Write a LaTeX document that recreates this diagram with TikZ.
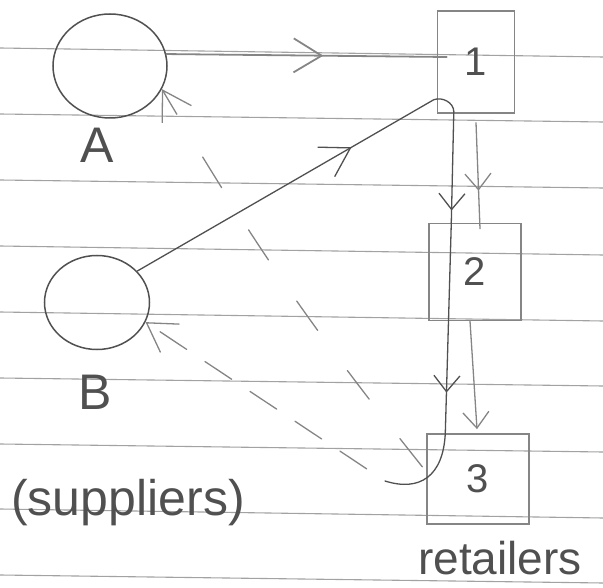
\documentclass[tikz,border=0pt]{standalone}
\usepackage{fontspec}
\setmainfont{Liberation Sans}
\usetikzlibrary{arrows.meta,positioning,shapes.geometric,decorations.markings}
\definecolor{pencil}{HTML}{505050}
\definecolor{lightpencil}{HTML}{858585}
\definecolor{ruling}{HTML}{A2A2A2}

\begin{document}
\begin{tikzpicture}[
    x=1pt, y=1pt,
    >={Straight Barb[length=16pt,width=26pt]},
    bigtip/.style={>={Straight Barb[length=28pt,width=34pt]}},
    supplier/.style={draw=pencil, ellipse, line width=1.5pt, inner sep=0pt},
    retailer/.style={draw=lightpencil, rectangle, line width=1.4pt, inner sep=0pt, font=\fontsize{40}{40}\selectfont, text=pencil},
    lab/.style={font=\fontsize{50}{50}\selectfont, text=pencil, inner sep=0pt},
    flow/.style={draw=pencil, line width=1.3pt, line cap=round},
    back/.style={draw=lightpencil, line width=1.3pt, line cap=round},
    midarrow/.style={postaction={decorate}, decoration={markings, mark=at position #1 with {\arrow{>}}}},
    rule/.style={draw=ruling, line width=1.1pt}
]
\useasboundingbox (0,0) rectangle (603,-588);

% lined paper
\foreach \yl/\yr in {48/57,114/122,180/188,246/255,312/321,378/386,444/452,509/518,575/583}
    \draw[rule] (0,-\yl) -- (603,-\yr);

% Nodes
\node[supplier, minimum width=114pt, minimum height=104pt] (A) at (110,-66) {};
\node[lab, below=9pt of A, xshift=-13pt] (labA) {A};
\node[supplier, minimum width=105pt, minimum height=94pt, below=136pt of A, xshift=-13pt] (B) {};
\node[lab, below=25pt of B, xshift=-2pt] (labB) {B};
\node[lab, anchor=base] (suppliers) at (128,-515) {(suppliers)};

\node[retailer, minimum width=77pt, minimum height=102pt] (box1) at (476,-62) {1};
\node[retailer, minimum width=92pt, minimum height=97pt, below=109pt of box1, xshift=-1pt] (box2) {2};
\node[retailer, minimum width=102pt, minimum height=90pt, below=112pt of box2, xshift=3pt] (box3) {3};
\node[lab, font=\fontsize{46}{46}\selectfont, anchor=base] (retailers) at (500,-574) {retailers};

\coordinate (turn1) at ([shift={(17,2)}]box1.south west);
\coordinate (retB) at (385,-481);

% Connections
\draw[flow, bigtip, line width=1.8pt, draw=lightpencil, midarrow=0.56] (A.12) -- ([shift={(10,5)}]box1.west);
\draw[flow, bigtip, midarrow=0.67] (B.38) -- ([shift={(-3,14)}]box1.south west) to[out=20, in=90] (turn1);
\draw[flow, midarrow=0.89] (turn1) -- ([xshift=23pt]box2.north west);
\draw[flow, midarrow=170pt] ([xshift=23pt]box2.north west) -- ([xshift=19pt]box3.north west)
    .. controls +(-2,-43) and +(35,-11) .. (retB);
\draw[back, midarrow=68pt] ([yshift=-9pt]box1.south) -- ([shift={(5,-6)}]box2.north);
\draw[back, ->] ([xshift=-5pt]box2.south) -- ([shift={(-1,4)}]box3.north);

% returns
\draw[back, bigtip, ->, dash pattern=on 32pt off 22pt, dash phase=32pt] (retB) -- (B.-22);
\draw[back, bigtip, ->, dash pattern=on 36pt off 50pt] ([shift={(-4,12)}]box3.west) to[bend left=4] (A.-24);

\end{tikzpicture}
\end{document}
